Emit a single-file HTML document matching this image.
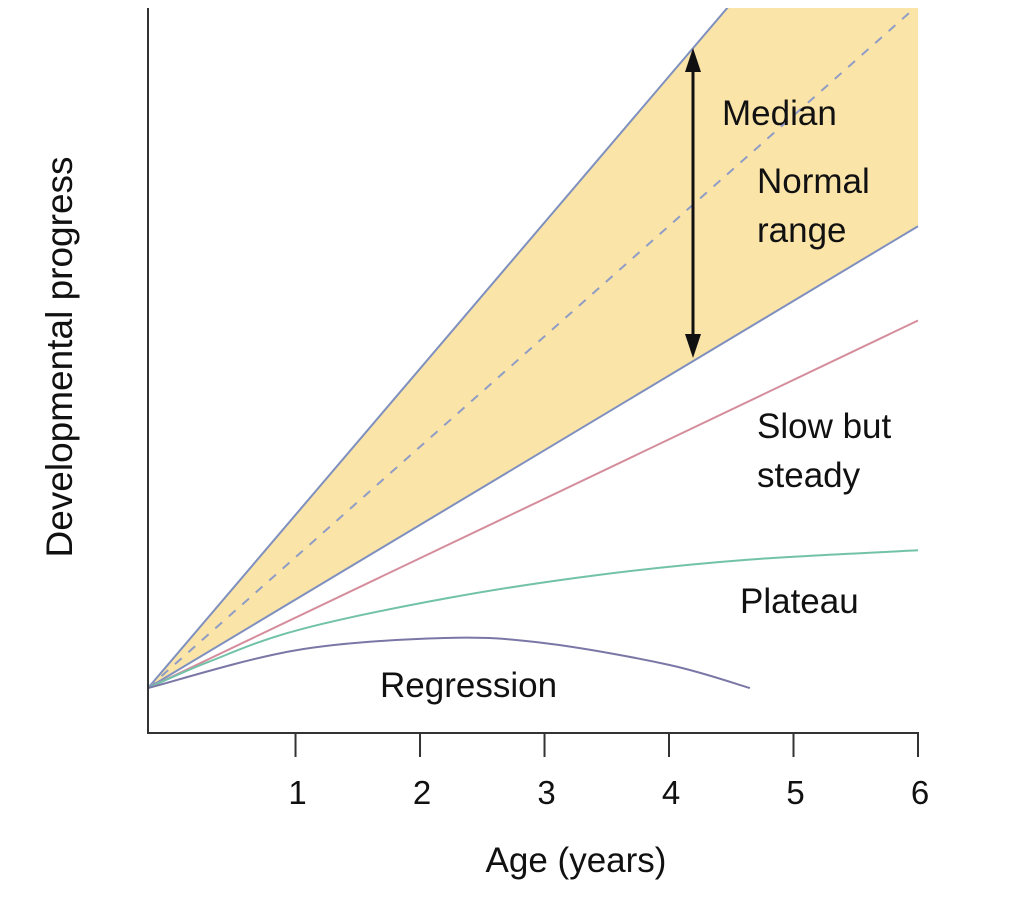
<!DOCTYPE html>
<html><head><meta charset="utf-8"><style>
html,body{margin:0;padding:0;background:#fff;}
svg{display:block;font-family:"Liberation Sans",Calibri,sans-serif;}
</style></head><body>
<svg id="chart" width="1030" height="898" viewBox="0 0 1030 898" xmlns="http://www.w3.org/2000/svg">
<defs><clipPath id="plotClip"><rect x="148" y="8" width="772" height="725"/></clipPath></defs>
<g id="plot" clip-path="url(#plotClip)"></g>
<g id="axes"></g>
<g id="labels"></g>
</svg>
<script>
// Data (progress units, 0..100 on y-axis scale)
const xTicks = [1, 2, 3, 4, 5, 6];
const startAge = -0.185;
const startValue = 6.2;
const upperEndValue = 130.9;   // at age 6
const medianEndValue = 100.4;  // at age 6
const lowerEndValue = 69.9;    // at age 6
const slowEndValue = 56.9;     // at age 6
const plateauAges = [-0.185, 0.3, 1.02, 2.22, 3.43, 4.63, 6];
const plateauValues = [6.2, 9.8, 14.2, 18.6, 21.8, 23.9, 25.2];
const regressionAges = [-0.185, 1, 2.2, 3, 4, 4.65];
const regressionValues = [6.2, 11.4, 13.1, 12.4, 9.4, 6.2];

const NS = "http://www.w3.org/2000/svg";
const x = a => 148 + (a - startAge) * (918 - 148) / (6 - startAge);
const y = v => 733 - v * 7.25;

function mk(tag, attrs, parent) {
  const e = document.createElementNS(NS, tag);
  for (const k in attrs) e.setAttribute(k, attrs[k]);
  parent.appendChild(e);
  return e;
}
function smooth(ages, vals) {
  const p = ages.map((a, i) => [x(a), y(vals[i])]);
  let d = `M${p[0][0]},${p[0][1]}`;
  for (let i = 0; i < p.length - 1; i++) {
    const p0 = p[i - 1] || p[i], p1 = p[i], p2 = p[i + 1], p3 = p[i + 2] || p2;
    const c1 = [p1[0] + (p2[0] - p0[0]) / 6, p1[1] + (p2[1] - p0[1]) / 6];
    const c2 = [p2[0] - (p3[0] - p1[0]) / 6, p2[1] - (p3[1] - p1[1]) / 6];
    d += ` C${c1[0]},${c1[1]} ${c2[0]},${c2[1]} ${p2[0]},${p2[1]}`;
  }
  return d;
}
const plot = document.getElementById('plot');
const x0 = x(startAge), y0 = y(startValue), x6 = x(6);

const band = mk('polygon', {points: `${x0},${y0} ${x6},${y(upperEndValue)} ${x6},${y(lowerEndValue)}`, fill: '#fbe4a8'}, plot);



const lines = [
  ['upper-bound-line', upperEndValue, '#7f90bf', null],
  ['median-line', medianEndValue, '#8f9cc6', '9 9'],
  ['lower-bound-line', lowerEndValue, '#7f90bf', null],
  ['slow-but-steady-line', slowEndValue, '#d58d9c', null]
];
lines.forEach(l => {
  const e = mk('line', {x1: x0, y1: y0, x2: x6, y2: y(l[1]), stroke: l[2], 'stroke-width': 2}, plot);
  if (l[3]) e.setAttribute('stroke-dasharray', l[3]);
  
  
});
const pl = mk('path', {d: smooth(plateauAges, plateauValues), fill: 'none', stroke: '#72c2a9', 'stroke-width': 2}, plot);


const rg = mk('path', {d: smooth(regressionAges, regressionValues), fill: 'none', stroke: '#7a77a6', 'stroke-width': 2}, plot);



// Axes
const axes = document.getElementById('axes');
const ya = mk('line', {x1: 148, y1: 8, x2: 148, y2: 733, stroke: '#333', 'stroke-width': 2}, axes);


const xa = mk('line', {x1: 147, y1: 733, x2: 919, y2: 733, stroke: '#333', 'stroke-width': 2}, axes);


xTicks.forEach(t => {
  const tk = mk('line', {x1: x(t), y1: 733, x2: x(t), y2: 757, stroke: '#333', 'stroke-width': 2}, axes);
  
  
  const tl = mk('text', {x: x(t) + 2, y: 804, 'font-size': 33, 'text-anchor': 'middle', fill: '#111'}, axes);
  tl.textContent = t;
  
  
});

// Arrow
const lab = document.getElementById('labels');
const arrX = 693;
const ar = mk('line', {x1: arrX, y1: 68, x2: arrX, y2: 338, stroke: '#111', 'stroke-width': 3}, lab);


const ah1 = mk('polygon', {points: `${arrX},48 ${arrX-8},72 ${arrX+8},72`, fill: '#111'}, lab);


const ah2 = mk('polygon', {points: `${arrX},358 ${arrX-8},334 ${arrX+8},334`, fill: '#111'}, lab);



const texts = [
  ['median-label', 'Median', 722, 125, 'start'],
  ['normal-label', 'Normal', 757, 193, 'start'],
  ['range-label', 'range', 757, 242, 'start'],
  ['slow-label', 'Slow but', 757, 438, 'start'],
  ['steady-label', 'steady', 757, 487, 'start'],
  ['plateau-label', 'Plateau', 740, 613, 'start'],
  ['regression-label', 'Regression', 380, 697, 'start'],
  ['x-axis-title', 'Age (years)', 576, 872, 'middle']
];
texts.forEach(t => {
  const e = mk('text', {x: t[2], y: t[3], 'font-size': 35, 'text-anchor': t[4], fill: '#111'}, lab);
  e.textContent = t[1];
  
  
});
const yt = mk('text', {x: 0, y: 0, 'font-size': 37, 'text-anchor': 'middle', fill: '#111', transform: 'translate(72,357) rotate(-90)'}, lab);
yt.textContent = 'Developmental progress';


</script>
</body></html>
